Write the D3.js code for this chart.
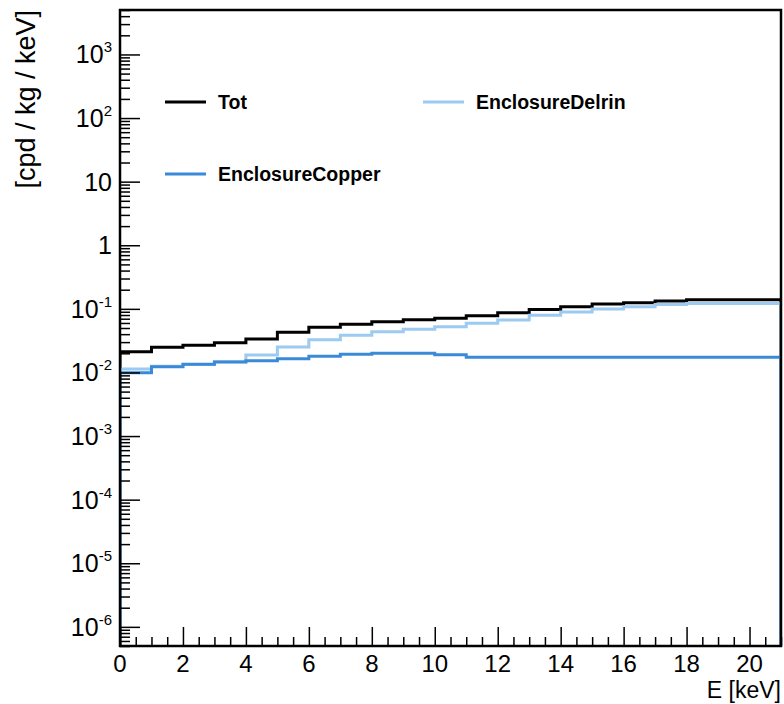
<!DOCTYPE html>
<html><head><meta charset="utf-8">
<script src="https://cdn.jsdelivr.net/npm/d3@7"></script>
<style>body{margin:0;background:#fff}svg{display:block}text{font-family:"Liberation Sans",Arial,Helvetica,sans-serif}</style>
</head><body>
<script>
const binEdges = d3.range(0, 22, 1); // 0..21 keV, 1 keV bins
const totValues = [0.0212,0.0248,0.0267,0.0294,0.0336,0.0428,0.0513,0.0571,0.0628,0.0675,0.071,0.078,0.087,0.098,0.108,0.119,0.125,0.133,0.139,0.139,0.139];
const delrinValues = [0.0113,0.0125,0.0133,0.0148,0.0188,0.0252,0.0328,0.0385,0.0435,0.0477,0.0522,0.0595,0.067,0.079,0.089,0.0995,0.108,0.117,0.121,0.121,0.121];
const copperValues = [0.0099,0.0123,0.0134,0.0146,0.0153,0.0164,0.0179,0.0193,0.0200,0.0200,0.0189,0.0173,0.0173,0.0173,0.0173,0.0173,0.0173,0.0173,0.0173,0.0173,0.0173];
const seriesNames = ["Tot","EnclosureDelrin","EnclosureCopper"];
const seriesColors = ["#000000","#9ccaf0","#3b8ad8"];
const xMajorTicks = d3.range(0, 21, 2);
const yDecades = [-6,-5,-4,-3,-2,-1,0,1,2,3];

const W = 784, H = 704;
const L = 120, R = 781, T = 10, B = 646;
const svg = d3.select("body").append("svg").attr("width", W).attr("height", H);
const x = d3.scaleLinear().domain([0, 21]).range([L, R]);
const y = d3.scaleLog().domain([5e-7, 5e3]).range([B, T]);

svg.append("defs").append("clipPath").attr("id","clip")
  .append("rect").attr("x",L).attr("y",T).attr("width",R-L).attr("height",B-T);

// histograms
const series = [totValues, delrinValues, copperValues];
series.forEach((vals, k) => {
  const pts = [[0, 5e-7]];
  vals.forEach((v, i) => { pts.push([binEdges[i], v]); pts.push([binEdges[i+1], v]); });
  pts.push([binEdges[binEdges.length-1], 5e-7]);
  const line = d3.line().x(d => x(d[0])).y(d => y(d[1]));
  svg.append("path").attr("d", line(pts)).attr("fill","none")
    .attr("stroke", seriesColors[k]).attr("stroke-width", 3)
    .attr("clip-path","url(#clip)");
});

// x axis ticks (inside)
const xMinor = d3.range(0, 21.01, 0.5).filter(v => v % 2 !== 0);
svg.append("g").attr("transform",`translate(0,${B})`)
  .call(d3.axisBottom(x).tickValues(xMinor).tickSize(-9).tickFormat(""))
  .call(g => { g.select(".domain").remove(); g.selectAll("line").attr("stroke","#000").attr("stroke-width",1.5); });
svg.append("g").attr("transform",`translate(0,${B})`)
  .call(d3.axisBottom(x).tickValues(xMajorTicks).tickSize(-19).tickFormat(""))
  .call(g => { g.select(".domain").remove(); g.selectAll("line").attr("stroke","#000").attr("stroke-width",1.5); });
svg.append("g").selectAll("text").data(xMajorTicks).join("text")
  .attr("x", d => x(d)).attr("y", 672).attr("text-anchor","middle")
  .attr("font-size", 24).text(d => d);

// y axis ticks (inside)
const yMinor = [];
yDecades.concat([-7]).forEach(e => { for (let m = 2; m <= 9; m++) { const v = m * Math.pow(10, e); if (v >= 5e-7 && v <= 5e3) yMinor.push(v); } });
svg.append("g").attr("transform",`translate(${L},0)`)
  .call(d3.axisLeft(y).tickValues(yMinor).tickSize(-10).tickFormat(""))
  .call(g => { g.select(".domain").remove(); g.selectAll("line").attr("stroke","#000").attr("stroke-width",1.5); });
svg.append("g").attr("transform",`translate(${L},0)`)
  .call(d3.axisLeft(y).tickValues(yDecades.map(e => Math.pow(10, e))).tickSize(-20).tickFormat(""))
  .call(g => { g.select(".domain").remove(); g.selectAll("line").attr("stroke","#000").attr("stroke-width",1.5); });

const yl = svg.append("g").selectAll("text").data(yDecades).join("text")
  .attr("x", 112).attr("y", e => y(Math.pow(10, e)) + 9).attr("text-anchor","end").attr("font-size", 25);
yl.each(function(e) {
  const t = d3.select(this);
  if (e === 0) t.text("1");
  else if (e === 1) t.text("10");
  else {
    t.append("tspan").text("10");
    t.append("tspan").attr("font-size", 15).attr("dy", -11).text(e < 0 ? "-" + (-e) : e);
  }
});

// frame
svg.append("rect").attr("x",L).attr("y",T).attr("width",R-L).attr("height",B-T)
  .attr("fill","none").attr("stroke","#000").attr("stroke-width",2.5);

// axis titles
svg.append("text").attr("x", R).attr("y", 698).attr("text-anchor","end").attr("font-size", 23).text("E [keV]");
svg.append("text").attr("transform",`translate(35,${T}) rotate(-90)`).attr("text-anchor","end")
  .attr("font-size", 27).text("[cpd / kg / keV]");

// legend
const legPos = [[165, 102], [423, 102], [165, 174]];
seriesNames.forEach((n, k) => {
  const [lx, ly] = legPos[k];
  svg.append("line").attr("x1", lx).attr("x2", lx + 41).attr("y1", ly).attr("y2", ly)
    .attr("stroke", seriesColors[k]).attr("stroke-width", 3);
  svg.append("text").attr("x", lx + 53).attr("y", ly + 7).attr("font-size", 19.5)
    .attr("font-weight","bold").text(n);
});
</script>
</body></html>
